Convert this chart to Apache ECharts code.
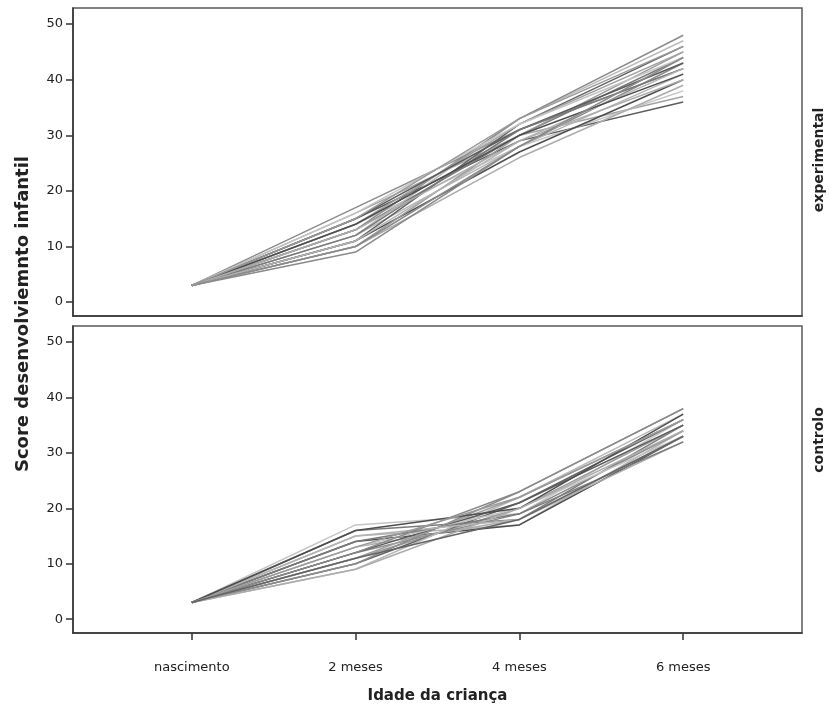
<!DOCTYPE html>
<html>
<head>
<meta charset="utf-8">
<script src="https://cdn.jsdelivr.net/npm/echarts@6/dist/echarts.min.js"></script>
<style>html,body{margin:0;padding:0;background:#fff}#c{width:830px;height:706px}</style>
</head>
<body>
<div id="c"></div>
<script>
const ageLabels = ['nascimento', '2 meses', '4 meses', '6 meses'];
const yTicks = [0, 10, 20, 30, 40, 50];
const panelNames = ['experimental', 'controlo'];

// experimental group: scores at birth, 2, 4, 6 months (one entry per child)
const expBirth = [3,3,3,3,3,3,3,3,3,3,3,3,3,3,3,3,3,3,3,3,3,3];
const exp2m    = [17,16,15,14,13,12,11,10,9,10,11,12,13,14,15,16,12,11,14,13,10,15];
const exp4m    = [31,30,29,28,30,28,27,26,28,30,32,33,33,32,31,32,31,29,30,29,28,33];
const exp6m    = [42,37,36,38,44,41,40,39,43,45,46,47,48,45,43,44,42,42,41,40,44,46];

// control group
const ctlBirth = [3,3,3,3,3,3,3,3,3,3,3,3,3,3,3,3,3,3,3,3];
const ctl2m    = [17,16,15,14,13,12,11,10,9,10,11,12,13,14,15,16,9,12,13,11];
const ctl4m    = [19,18,17,17,18,19,20,21,22,23,22,21,20,19,18,20,20,23,22,18];
const ctl6m    = [36,35,34,33,32,34,35,36,37,38,36,35,33,32,33,37,34,38,36,33];

const grays = ['#8c8c8c','#b4b4b4','#646464','#c4c4c4','#8a8a8a','#a2a2a2','#4e4e4e','#bababa','#7a7a7a','#9a9a9a','#5c5c5c','#acacac'];

const FONT = '"DejaVu Sans", Verdana, sans-serif';
const series = [];
function addGroup(b, m2, m4, m6, idx) {
  for (let i = 0; i < b.length; i++) {
    series.push({
      type: 'line', xAxisIndex: idx, yAxisIndex: idx, symbol: 'none', silent: true,
      lineStyle: { width: 1.5, color: grays[(i * 5 + idx * 3) % grays.length] },
      data: [[0, b[i]], [1, m2[i]], [2, m4[i]], [3, m6[i]]]
    });
  }
}
addGroup(expBirth, exp2m, exp4m, exp6m, 0);
addGroup(ctlBirth, ctl2m, ctl4m, ctl6m, 1);

const gridBase = { left: 73, width: 729, show: true, borderColor: '#5a5a5a', borderWidth: 1.5, backgroundColor: '#fff' };
function yAxis(idx) {
  return {
    type: 'value', gridIndex: idx, min: -2.5, max: 52.9, interval: 10,
    splitLine: { show: false },
    axisLine: { show: true, onZero: false, lineStyle: { color: '#333', width: 1.5 } },
    axisTick: { show: true, length: 7, lineStyle: { color: '#333', width: 1.5 }, customValues: yTicks },
    axisLabel: { color: '#222', fontFamily: FONT, fontSize: 13, margin: 10, customValues: yTicks }
  };
}
function xAxis(idx, showLabels) {
  return {
    type: 'value', gridIndex: idx, min: -0.725, max: 3.725,
    splitLine: { show: false },
    axisLine: { show: true, onZero: false, lineStyle: { color: '#333', width: 1.5 } },
    axisTick: { show: showLabels, length: 7, lineStyle: { color: '#333', width: 1.5 }, customValues: [0, 1, 2, 3] },
    axisLabel: { show: showLabels, color: '#222', fontFamily: FONT, fontSize: 13, margin: 28,
      customValues: [0, 1, 2, 3], formatter: v => ageLabels[Math.round(v)] },
    name: showLabels ? 'Idade da criança' : '', nameLocation: 'middle', nameGap: 56,
    nameTextStyle: { fontFamily: FONT, fontSize: 15, fontWeight: 'bold', color: '#222' }
  };
}

const chart = echarts.init(document.getElementById('c'), null, { renderer: 'canvas' });
chart.setOption({
  animation: false,
  backgroundColor: '#fff',
  grid: [
    Object.assign({ top: 8, height: 308 }, gridBase),
    Object.assign({ top: 326, height: 307 }, gridBase)
  ],
  xAxis: [xAxis(0, false), xAxis(1, true)],
  yAxis: [yAxis(0), yAxis(1)],
  series: series,
  graphic: [
    { type: 'text', x: 23, y: 314, rotation: Math.PI / 2,
      style: { text: 'Score desenvolviemnto infantil', font: 'bold 18px ' + FONT, fill: '#222', align: 'center', verticalAlign: 'middle' } },
    { type: 'text', x: 819, y: 160, rotation: Math.PI / 2,
      style: { text: panelNames[0], font: 'bold 14px ' + FONT, fill: '#222', align: 'center', verticalAlign: 'middle' } },
    { type: 'text', x: 819, y: 440, rotation: Math.PI / 2,
      style: { text: panelNames[1], font: 'bold 14px ' + FONT, fill: '#222', align: 'center', verticalAlign: 'middle' } }
  ]
});
</script>
</body>
</html>
